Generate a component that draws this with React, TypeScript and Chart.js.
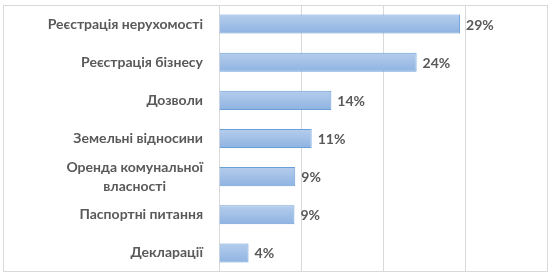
import React, { useEffect, useRef } from "react";
import { Chart, registerables } from "chart.js";

Chart.register(...registerables);

const categories: (string | string[])[] = [
  "Реєстрація нерухомості",
  "Реєстрація бізнесу",
  "Дозволи",
  "Земельні відносини",
  ["Оренда комунальної", "власності"],
  "Паспортні питання",
  "Декларації",
];
const values = [0.294, 0.241, 0.137, 0.113, 0.093, 0.092, 0.036];
const valueLabels = ["29%", "24%", "14%", "11%", "9%", "9%", "4%"];

const TEXT = "#595959";
const GRID = "#d9d9d9";
const FONT = "Lato, 'Open Sans', sans-serif";

const labelPlugin = {
  id: "customLabels",
  afterDraw(chart: any) {
    const ctx = chart.ctx;
    const y = chart.scales.y;
    const x = chart.scales.x;
    ctx.save();
    // outer border
    ctx.strokeStyle = GRID;
    ctx.lineWidth = 1;
    ctx.strokeRect(3.5, 5.5, 544, 266);
    // category labels
    ctx.fillStyle = TEXT;
    ctx.font = `bold 14px ${FONT}`;
    ctx.textBaseline = "middle";
    ctx.textAlign = "center";
    const right = chart.chartArea.left - 16;
    categories.forEach((c, i) => {
      const lines = Array.isArray(c) ? c : [c];
      const w = Math.max(...lines.map((l) => ctx.measureText(l).width));
      const cx = right - w / 2;
      const cy = y.getPixelForValue(i);
      const lh = 19;
      lines.forEach((l, j) => {
        ctx.fillText(l, cx, cy + (j - (lines.length - 1) / 2) * lh);
      });
    });
    // value labels
    ctx.font = `bold 14px ${FONT}`;
    ctx.textAlign = "left";
    values.forEach((v, i) => {
      ctx.fillText(valueLabels[i], x.getPixelForValue(v) + 6, y.getPixelForValue(i) + 1);
    });
    ctx.restore();
  },
};

export default function App() {
  const ref = useRef<HTMLCanvasElement>(null);
  useEffect(() => {
    if (!ref.current) return;
    const chart = new Chart(ref.current, {
      type: "bar",
      data: {
        labels: categories as any,
        datasets: [
          {
            data: values,
            backgroundColor: (c: any) => {
              const ch = c.chart;
              const ys = ch.scales?.y;
              if (!ys || c.dataIndex === undefined) return "#a3c1e8";
              const cy = ys.getPixelForValue(c.dataIndex);
              if (!Number.isFinite(cy)) return "#a3c1e8";
              const g = ch.ctx.createLinearGradient(0, cy - 9.5, 0, cy + 9.5);
              g.addColorStop(0, "#b5cdec");
              g.addColorStop(1, "#8fb3e2");
              return g;
            },
            borderColor: "#6a9fd8",
            borderWidth: 1,
            barPercentage: 0.5,
            categoryPercentage: 1,
          },
        ],
      },
      options: {
        indexAxis: "y",
        animation: false,
        responsive: false,
        maintainAspectRatio: false,
        layout: { padding: { top: 5, bottom: 4, right: 6, left: 0 } },
        plugins: { legend: { display: false }, tooltip: { enabled: false } },
        scales: {
          x: {
            min: 0,
            max: 0.4,
            ticks: { display: false, stepSize: 0.1 },
            grid: { color: GRID, drawTicks: false, lineWidth: 1 },
            border: { display: false },
          },
          y: {
            ticks: { display: false },
            grid: { display: false, drawTicks: false },
            border: { display: false },
            afterFit: (s: any) => {
              s.width = 219;
            },
          },
        },
      },
      plugins: [labelPlugin],
    });
    return () => chart.destroy();
  }, []);
  return (
    <div style={{ position: "absolute", left: 0, top: 0, width: 553, height: 276, background: "#fff" }}>
      <canvas ref={ref} width={553} height={276} style={{ display: "block" }} />
    </div>
  );
}
